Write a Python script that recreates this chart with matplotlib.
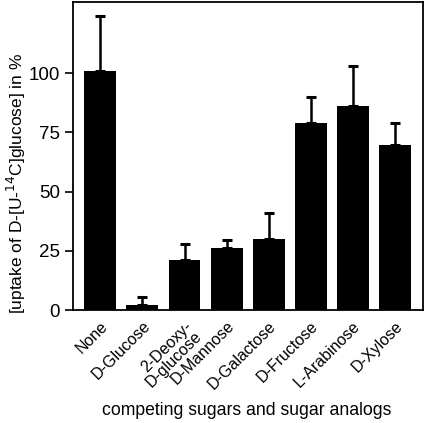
import matplotlib
matplotlib.use('Agg')
import matplotlib.pyplot as plt

sugars = ['None', 'D-Glucose', '2-Deoxy-\nD-glucose', 'D-Mannose', 'D-Galactose',
          'D-Fructose', 'L-Arabinose', 'D-Xylose']
uptake = [101, 2, 21, 26, 30, 79, 86, 69.5]
err = [23, 3.5, 7, 3.5, 11, 11, 17, 9.5]

plt.rcParams['font.family'] = ['Liberation Sans', 'DejaVu Sans']

fig = plt.figure(figsize=(4.25, 4.23), dpi=100)
ax = fig.add_axes([0.172, 0.267, 0.823, 0.728])

x = range(len(sugars))
ax.errorbar(x, uptake, yerr=[[0] * len(err), err], fmt='none', ecolor='black',
            elinewidth=1.8, capsize=3.5, capthick=2.2, zorder=1)
ax.bar(x, uptake, width=0.76, color='black', linewidth=0, zorder=2)

ax.set_xlim(-0.65, 7.67)
ax.set_ylim(0, 130)
ax.set_yticks([0, 25, 50, 75, 100])
ax.tick_params(axis='y', direction='out', length=6, width=1.2, labelsize=13.5)
ax.set_xticks(list(x))
ax.set_xticklabels(sugars, rotation=45, ha='right', rotation_mode='anchor',
                   fontsize=11.5, linespacing=0.9)
ax.tick_params(axis='x', length=0, pad=6)
for s in ax.spines.values():
    s.set_linewidth(1.3)

ax.set_ylabel('[uptake of D-[U-$^{14}$C]glucose] in %', fontsize=12.5)
ax.yaxis.set_label_coords(-0.13, 0.41)
fig.text(0.58, 0.018, 'competing sugars and sugar analogs', ha='center', fontsize=12.7)

fig.savefig('out.png', dpi=100)
